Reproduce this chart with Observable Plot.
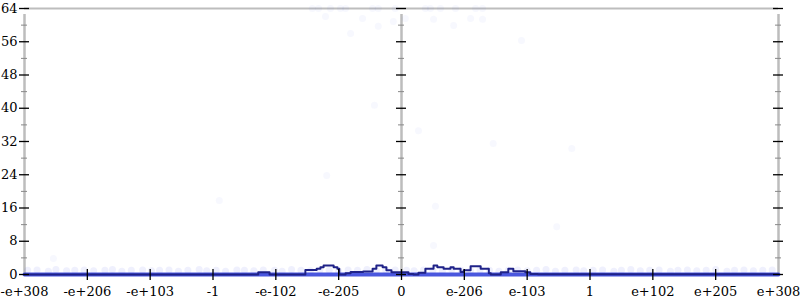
<!DOCTYPE html>
<html>
<head>
<meta charset="utf-8">
<script src="https://cdn.jsdelivr.net/npm/d3@7"></script>
<script src="https://cdn.jsdelivr.net/npm/@observablehq/plot@0.6"></script>
<style>
  html, body { margin: 0; padding: 0; background: #fff; }
</style>
</head>
<body>
<div id="chart"></div>
<script>
// x positions are in "tick units": -6 .. 6, one unit per labelled tick
const xTickPos = [-6, -5, -4, -3, -2, -1, 0, 1, 2, 3, 4, 5, 6];
const xTickLabels = ["-e+308", "-e+206", "-e+103", "-1", "-e-102", "-e-205", "0", "e-206", "e-103", "1", "e+102", "e+205", "e+308"];
const yMajor = [0, 8, 16, 24, 32, 40, 48, 56, 64];
const yMinor = [4, 12, 20, 28, 36, 44, 52, 60];
const axisXs = [-6, 0, 6];

// dark step line
const lineX = [-6, -2.28, -2.10, -1.53, -1.35, -1.29, -1.24, -1.08, -1.02, -0.99, -0.89, -0.81, -0.61, -0.46, -0.40, -0.30, -0.24, -0.16, 0.11, 0.19, 0.27, 0.38, 0.51, 0.57, 0.67, 0.78, 0.83, 0.94, 0.99, 1.10, 1.26, 1.39, 1.42, 1.58, 1.70, 1.78, 1.97, 2.05, 2.17, 6];
const lineY = [0, 0.55, 0, 1.1, 1.4, 1.75, 2.15, 1.75, 1.4, 0, 0.3, 0.6, 0.7, 1.4, 2.15, 1.75, 1.0, 0.55, 0.15, 0, 0.4, 1.4, 2.15, 1.75, 1.4, 1.75, 1.4, 0.6, 1.0, 2.0, 1.4, 0.3, 0, 0.55, 1.4, 0.8, 0.55, 0.15, 0.05, 0.05];

// faint band of points just above zero
const bandX = [-5.95, -5.8, -5.62, -5.5, -5.33, -5.2, -5.05, -4.9, -4.72, -4.6, -4.45, -4.3, -4.12, -3.98, -3.85, -3.7, -3.55, -3.4, -3.22, -3.1, -2.95, -2.8, -2.62, -2.5, -2.35, -2.2, -2.02, -1.9, -1.75, -1.6, -1.45, -1.3, -1.15, -1.0, -0.85, -0.7, -0.55, -0.4, -0.25, -0.1, 0.08, 0.2, 0.35, 0.5, 0.65, 0.8, 0.95, 1.1, 1.25, 1.4, 1.55, 1.7, 1.85, 2.0, 2.15, 2.3, 2.45, 2.6, 2.78, 2.9, 3.05, 3.2, 3.38, 3.5, 3.65, 3.8, 3.95, 4.1, 4.28, 4.4, 4.55, 4.7, 4.85, 5.0, 5.18, 5.3, 5.45, 5.6, 5.75, 5.9];
const bandY = [1.0, 1.1, 0.8, 1.2, 0.9, 1.0, 1.1, 0.9, 1.0, 1.2, 0.8, 1.0, 1.1, 0.9, 1.0, 1.1, 0.8, 1.0, 1.2, 0.9, 1.0, 0.8, 1.1, 1.0, 0.9, 1.1, 1.0, 0.8, 1.2, 1.0, 0.9, 1.1, 1.0, 0.8, 1.1, 1.0, 1.2, 0.9, 1.0, 1.1, 1.0, 0.9, 1.1, 1.0, 0.8, 1.2, 1.0, 0.9, 1.1, 1.0, 0.8, 1.0, 1.1, 0.9, 1.0, 1.2, 0.8, 1.0, 1.1, 0.9, 1.0, 1.1, 0.8, 1.0, 1.2, 0.9, 1.0, 1.1, 0.8, 1.0, 1.1, 0.9, 1.0, 1.2, 0.8, 1.0, 1.1, 0.9, 1.0, 1.1];
// very faint scattered outliers
const scatterX = [-5.54, -2.90, -1.19, -0.43, -0.81, -1.21, -0.62, -0.37, -0.13, 0.06, 0.51, 0.83, 1.10, 1.29,
  -1.42, -1.32, -1.13, -0.97, -0.89, -0.46, -0.37, -0.10, 0.38, 0.46, 0.62, 0.86, 1.18, 1.29,
  0.54, 0.51, 2.47, 0.27, 1.46, 2.71, 1.91];
const scatterY = [3.85, 17.8, 23.8, 40.7, 58.0, 62.1, 61.6, 59.7, 60.9, 61.6, 61.4, 59.9, 61.6, 61.4,
  64, 64, 64, 64, 64, 64, 64, 64, 64, 64, 64, 64, 64, 64,
  16.4, 7.0, 11.5, 34.6, 31.5, 30.3, 56.3];
// baseline of points at zero
const baseX = [-6, 6];
const baseY = [0, 0];

const line = lineX.map((x, i) => ({x, y: lineY[i]}));
const band = bandX.map((x, i) => ({x, y: bandY[i]}));
const scatter = scatterX.map((x, i) => ({x, y: scatterY[i]}));
const base = baseX.map((x, i) => ({x, y: baseY[i]}));
const ticks = xTickPos.map((x, i) => ({x, label: xTickLabels[i]}));

const chart = Plot.plot({
  width: 800,
  height: 300,
  marginLeft: 24,
  marginRight: 22,
  marginTop: 8,
  marginBottom: 26,
  style: {fontFamily: "'DejaVu Serif', serif", fontSize: "13px", background: "#fff", color: "#000"},
  x: {domain: [-6, 6], axis: null},
  y: {domain: [0, 64], axis: null},
  marks: [
    // frame
    Plot.ruleY([64], {stroke: "#bdbdbd", strokeWidth: 2}),
    Plot.ruleX(axisXs, {stroke: "#bdbdbd", strokeWidth: 2.5, y1: 0, y2: 64, insetBottom: -6}),
    // data
    Plot.dot(band, {x: "x", y: "y", r: 3.5, fill: "#3040e0", fillOpacity: 0.08}),
    Plot.dot(scatter, {x: "x", y: "y", r: 3.5, fill: "#3040e0", fillOpacity: 0.04}),
    Plot.line(base, {x: "x", y: "y", stroke: "#2a3ad8", strokeWidth: 4, strokeOpacity: 0.85}),
    Plot.line(line, {x: "x", y: "y", curve: "step-after", stroke: "#1f2288", strokeWidth: 2}),
    // y ticks on the three vertical axes
    ...axisXs.map(ax => Plot.ruleY(yMajor, {x1: () => ax, x2: () => ax, insetLeft: -5, insetRight: -5, stroke: "#000", strokeWidth: 1.3})),
    ...axisXs.map(ax => Plot.ruleY(yMinor, {x1: () => ax, x2: () => ax, insetLeft: -3, insetRight: -3, stroke: "#888", strokeWidth: 1})),
    // x ticks
    Plot.ruleX(xTickPos.slice(1, -1), {y1: 0, y2: 0, insetTop: -5, insetBottom: -6, stroke: "#000", strokeWidth: 1.3}),
    // labels
    Plot.axisY({anchor: "left", ticks: yMajor, tickSize: 0, tickPadding: 7, fontSize: 13, label: null}),
    Plot.text(ticks, {x: "x", text: "label", frameAnchor: "bottom", dy: 21, fontSize: 13, fill: "#000"})
  ]
});
document.getElementById("chart").appendChild(chart);
</script>
</body>
</html>
